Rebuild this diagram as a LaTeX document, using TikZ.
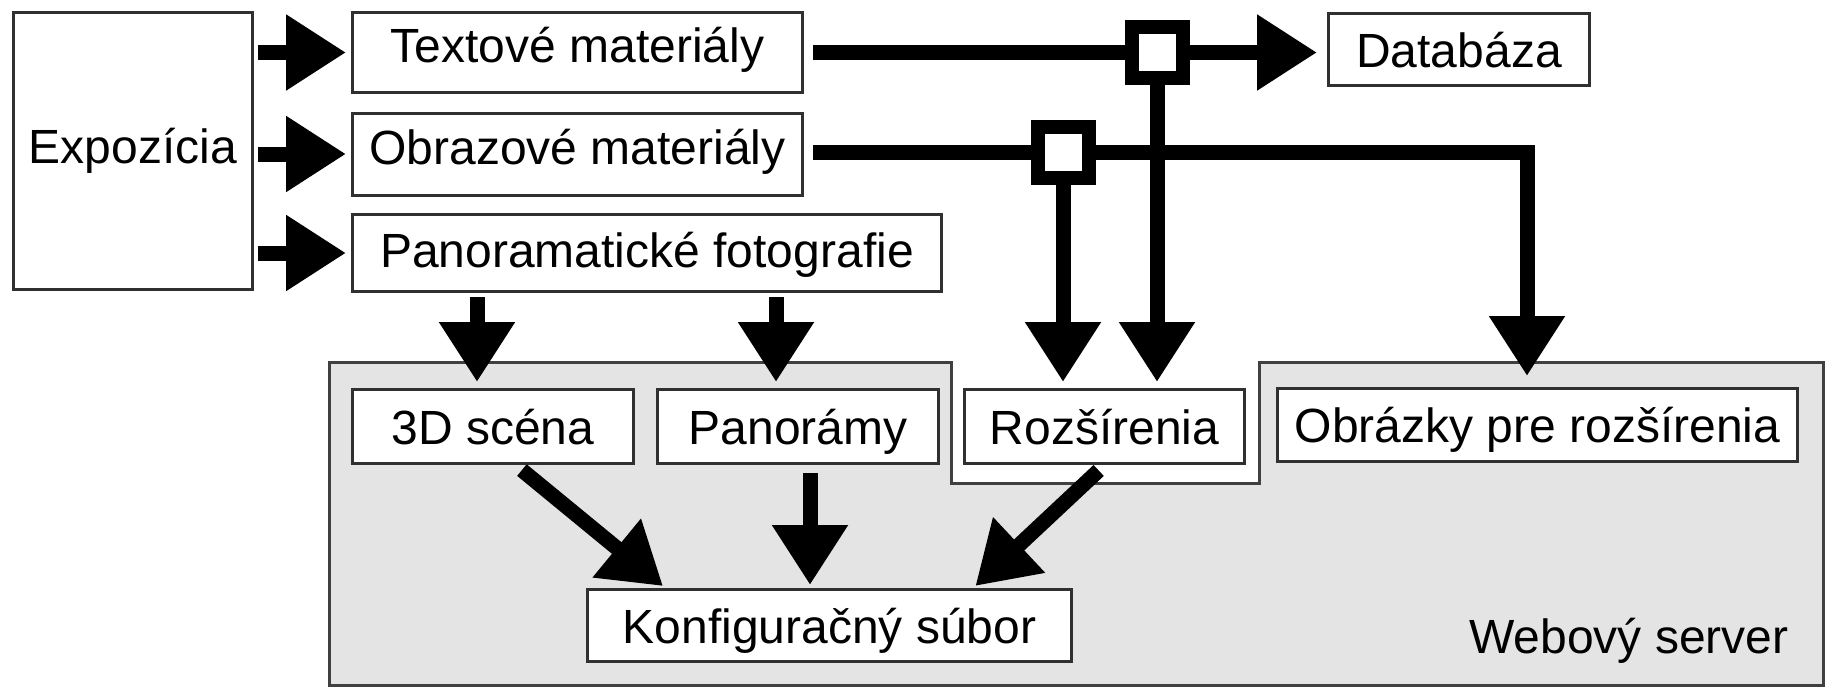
\documentclass[tikz,border=0pt]{standalone}
\usepackage{fontspec}
\setmainfont{Liberation Sans}
\usetikzlibrary{arrows.meta,calc}
\definecolor{servergray}{HTML}{E4E4E4}
\definecolor{framegray}{HTML}{303030}
\begin{document}
\begin{tikzpicture}[x=0.5pt,y=-0.5pt,
  box/.style={draw=framegray, line width=1.5pt, fill=white, inner sep=0pt,
    font=\fontsize{24pt}{28pt}\selectfont, text height=17.5pt, text depth=0pt},
  raised/.style={text depth=7.5pt},
  junction/.style={draw=black, line width=7pt, fill=white, minimum size=25.5pt, inner sep=0pt},
  wire/.style={draw=black, line width=7.5pt, line join=miter},
  flow/.style={wire, -{Triangle[length=30pt,width=36pt]}, shorten >=2.5pt, shorten <=2pt},
  server/.style={draw=black!75, line width=1.5pt, fill=servergray},
  label/.style={font=\fontsize{24pt}{28pt}\selectfont, inner sep=0pt},
]
\useasboundingbox (0,0) rectangle (1830,686);

% web server area with the notch around the extensions box
\draw[server] (329,362) -- (951,362) -- (951,483) -- (1259,483) -- (1259,362)
  -- (1823,362) -- (1823,685) -- (329,685) -- cycle;

% sources
\node[box, minimum width=119.5pt, minimum height=138.5pt, text depth=5.5pt] (expo) at (133,151) {Expozícia};
\node[box, raised, minimum width=225pt, minimum height=40pt] (textove) at (577.5,52.5) {Textové materiály};
\node[box, raised, minimum width=225pt, minimum height=41pt] (obrazove) at (577.5,154) {Obrazové materiály};
\node[box, text depth=3.5pt, minimum width=294.5pt, minimum height=38.5pt] (panoram) at (647,253) {Panoramatické fotografie};
\node[box, minimum width=130.5pt, minimum height=36pt] (databaza) at (1459,49.5) {Databáza};

% server contents
\node[box, minimum width=140.5pt, minimum height=37pt] (scena) at (493,426.5) {3D scéna};
\node[box, minimum width=140.5pt, minimum height=37pt] (panoramy) at (798,426.5) {Panorámy};
\node[box, minimum width=140pt, minimum height=37pt] (rozsirenia) at (1104.5,426.5) {Rozšírenia};
\node[box, minimum width=260pt, minimum height=36.5pt] (obrazky) at (1537.5,425) {Obrázky pre rozšírenia};
\node[box, minimum width=242pt, minimum height=36pt] (konfig) at (829.5,625.5) {Konfiguračný súbor};
\node[label, anchor=base east] (web) at (1789,653) {Webový server};

% branching points
\node[junction] (jn1) at (1157,52.5) {};
\node[junction] (jn2) at (1063,152) {};

% exposition feeds the three material groups
\draw[flow] (expo.east |- textove.west) -- (textove.west);
\draw[flow] (expo.east |- obrazove.west) -- (obrazove.west);
\draw[flow] (expo.east |- panoram.west) -- (panoram.west);

% text materials: to the database and to the extensions
\draw[wire, shorten <=4.5pt] (textove.east |- jn1) -- (jn1);
\draw[flow, shorten <=0pt, shorten >=5pt] (jn1) -- (jn1 -| databaza.west);
\draw[flow, shorten <=0pt, shorten >=3pt] (jn1) -- (jn1 |- rozsirenia.north);

% image materials: to the extensions and to the extension images
\coordinate (bend) at (1527,0);
\draw[wire, shorten <=4.5pt] (obrazove.east |- jn2) -- (jn2);
\draw[flow, shorten <=0pt, shorten >=3pt] (jn2) -- (jn2 |- rozsirenia.north);
\draw[flow, shorten <=0pt, shorten >=5.5pt] (jn2) -- (bend |- jn2) -- (bend |- obrazky.north);

% panoramic photos: to the scene and to the panoramas
\coordinate (pd1) at (477,0);
\coordinate (pd2) at (776,0);
\draw[flow, shorten >=3pt] (pd1 |- panoram.south) -- (pd1 |- scena.north);
\draw[flow, shorten >=3pt] (pd2 |- panoram.south) -- (pd2 |- panoramy.north);

% everything ends up in the configuration file
\coordinate (pk) at (810,0);
\draw[flow, shorten <=4pt, shorten >=1.5pt]
  ($(scena.south west)!0.58!(scena.south east)$) -- ($(konfig.north west)!0.163!(konfig.north east)$);
\draw[flow, shorten <=4pt, shorten >=1.5pt] (pk |- panoramy.south) -- (pk |- konfig.north);
\draw[flow, shorten <=4pt, shorten >=1.5pt]
  (rozsirenia.south) -- ($(konfig.north west)!0.795!(konfig.north east)$);
\end{tikzpicture}
\end{document}
